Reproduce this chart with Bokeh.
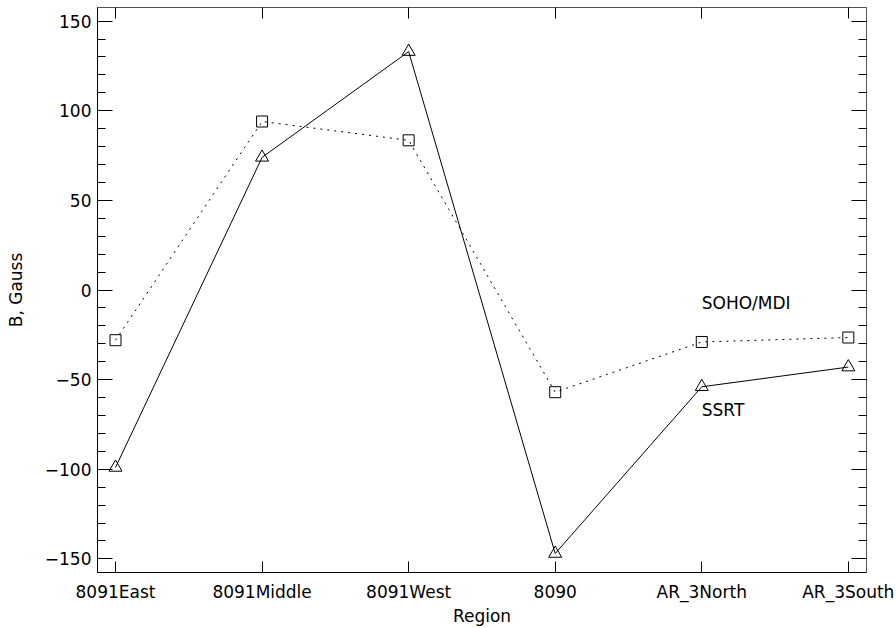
from bokeh.plotting import figure
from bokeh.models import Range1d, LinearAxis, FixedTicker, Label
from bokeh.embed import file_html
from bokeh.resources import INLINE

regions = ["8091East", "8091Middle", "8091West", "8090", "AR_3North", "AR_3South"]
ssrt = [-99, 74, 133, -147, -54, -43]
soho_mdi = [-28, 94, 83.5, -57, -29, -26.5]
y_major = [-150, -100, -50, 0, 50, 100, 150]
y_minor = list(range(-150, 151, 10))

xs = list(range(len(regions)))
FONT = "DejaVu Sans"
FS = "17px"

p = figure(width=896, height=628, x_range=Range1d(-0.123, 5.124), y_range=Range1d(-157.6, 157.6),
           output_backend="svg", toolbar_location=None, x_axis_type=None, y_axis_type=None,
           min_border_left=97, min_border_right=30, min_border_top=7, min_border_bottom=55)
p.outline_line_color = "#555555"
p.background_fill_color = "white"
p.border_fill_color = "white"

xt = FixedTicker(ticks=xs, minor_ticks=[])
yt = FixedTicker(ticks=y_major, minor_ticks=y_minor)

def style(ax, labels=True):
    ax.axis_line_color = "black"
    ax.major_tick_line_color = "black"
    ax.minor_tick_line_color = "black"
    ax.major_tick_out = 0
    ax.minor_tick_out = 0
    ax.major_label_text_font = FONT
    ax.major_label_text_font_size = FS
    ax.major_label_text_color = "black"
    ax.axis_label_text_font = FONT
    ax.axis_label_text_font_size = FS
    ax.axis_label_text_font_style = "normal"
    ax.axis_label_text_color = "black"
    if not labels:
        ax.major_label_text_alpha = 0
        ax.major_label_text_font_size = "0px"

bottom = LinearAxis(ticker=xt, axis_label="Region",
                    major_label_overrides={i: r for i, r in enumerate(regions)})
style(bottom)
bottom.major_tick_in = 11
bottom.major_label_standoff = 9
bottom.axis_label_standoff = 1
p.add_layout(bottom, "below")

top = LinearAxis(ticker=xt)
style(top, labels=False)
top.major_tick_in = 11
top.axis_line_color = "#555555"
p.add_layout(top, "above")

left = LinearAxis(ticker=yt, axis_label="B, Gauss")
style(left)
left.major_tick_in = 15
left.minor_tick_in = 8
left.major_label_standoff = 6
left.axis_label_standoff = 16
p.add_layout(left, "left")

right = LinearAxis(ticker=yt)
style(right, labels=False)
right.major_tick_in = 15
right.minor_tick_in = 8
right.axis_line_color = "#555555"
p.add_layout(right, "right")

p.line(xs, soho_mdi, line_color="black", line_width=1, line_dash="2 5")
p.scatter(xs, soho_mdi, marker="square", size=11, fill_color=None, line_color="black", line_width=1)
p.line(xs, ssrt, line_color="black", line_width=1)
p.scatter(xs, ssrt, marker="triangle", size=13, fill_color=None, line_color="black", line_width=1)

p.add_layout(Label(x=4, y=-7, text="SOHO/MDI", text_font=FONT, text_font_size=FS,
                   text_baseline="middle", text_align="left", text_color="black"))
p.add_layout(Label(x=4, y=-67, text="SSRT", text_font=FONT, text_font_size=FS,
                   text_baseline="middle", text_align="left", text_color="black"))

open("out.html", "w").write(file_html(p, INLINE))
